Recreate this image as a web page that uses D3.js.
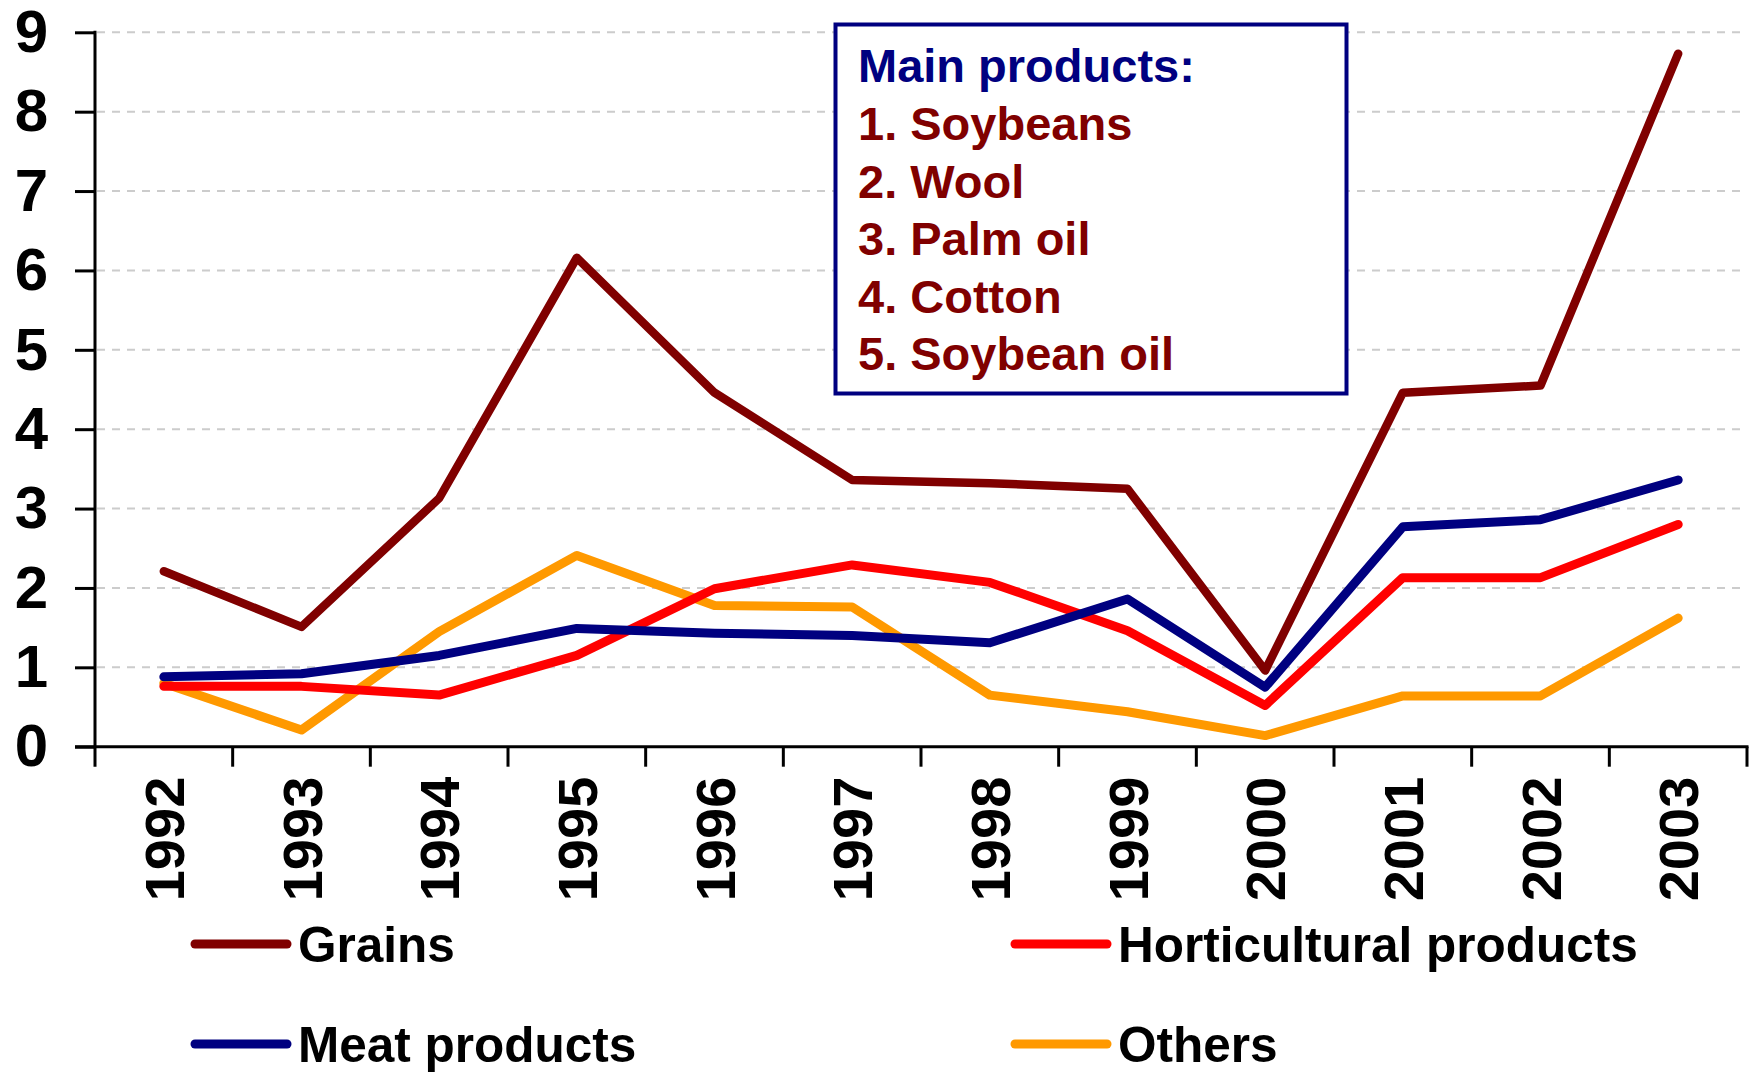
<!DOCTYPE html>
<html lang="en">

<head>
    <meta charset="UTF-8">
    <title>Main products line chart</title>
    <script src="https://d3js.org/d3.v7.min.js"></script>
    <style>
        body {
            margin: 0;
            background: #fff;
            font-family: "Liberation Sans", Arial, sans-serif;
            font-weight: bold;
        }

        .grid line {
            stroke: #cccccc;
            stroke-width: 2;
            stroke-dasharray: 8 7;
        }

        .line {
            fill: none;
            stroke-linejoin: round;
            stroke-linecap: round;
        }
    </style>
</head>

<body>
    <div id="chart"></div>

    <script>
        // 画布尺寸
        const W = 1758, H = 1072;
        const plot = { left: 95, right: 1747, top: 32.3, bottom: 746.7 };

        // 数据
        const years = ["1992", "1993", "1994", "1995", "1996", "1997", "1998", "1999", "2000", "2001", "2002", "2003"];
        const grains = [2.21, 1.51, 3.13, 6.16, 4.46, 3.36, 3.32, 3.25, 0.96, 4.46, 4.55, 8.73];
        const horticultural = [0.76, 0.76, 0.65, 1.15, 1.99, 2.29, 2.07, 1.46, 0.52, 2.13, 2.13, 2.80];
        const meat = [0.88, 0.92, 1.15, 1.49, 1.43, 1.40, 1.31, 1.86, 0.75, 2.77, 2.86, 3.36];
        const others = [0.80, 0.21, 1.45, 2.41, 1.78, 1.76, 0.65, 0.44, 0.14, 0.64, 0.64, 1.62];
        const yTicks = [0, 1, 2, 3, 4, 5, 6, 7, 8, 9];
        const boxTitle = "Main products:";
        const boxItems = ["1. Soybeans", "2. Wool", "3. Palm oil", "4. Cotton", "5. Soybean oil"];

        const series = [
            { name: "Grains", values: grains, color: "#800000", width: 8.5 },
            { name: "Horticultural products", values: horticultural, color: "#ff0000", width: 9 },
            { name: "Meat products", values: meat, color: "#000080", width: 9 },
            { name: "Others", values: others, color: "#ff9900", width: 9 }
        ];

        const svg = d3.select("#chart")
            .append("svg")
            .attr("width", W)
            .attr("height", H);

        // 比例尺
        const x = d3.scaleBand()
            .domain(years)
            .range([plot.left, plot.right]);

        const y = d3.scaleLinear()
            .domain([0, 9])
            .range([plot.bottom, plot.top]);

        const cx = d => x(d) + x.bandwidth() / 2;

        // 网格线
        svg.append("g")
            .attr("class", "grid")
            .selectAll("line")
            .data(yTicks.filter(d => d > 0))
            .join("line")
            .attr("x1", plot.left + 2)
            .attr("x2", plot.right)
            .attr("y1", d => y(d))
            .attr("y2", d => y(d));

        // 折线
        const line = d3.line()
            .x((d, i) => cx(years[i]))
            .y(d => y(d));

        svg.append("g")
            .selectAll("path")
            .data([series[3], series[1], series[2], series[0]])
            .join("path")
            .attr("class", "line")
            .attr("stroke", d => d.color)
            .attr("stroke-width", d => d.width)
            .attr("d", d => line(d.values));

        // Y 轴
        const yAxis = svg.append("g")
            .attr("transform", `translate(${plot.left},0)`)
            .call(d3.axisLeft(y).tickValues(yTicks).tickSize(20).tickPadding(27));
        yAxis.select(".domain").remove();
        yAxis.selectAll(".tick line").attr("stroke", "#000").attr("stroke-width", 3);
        yAxis.selectAll(".tick text")
            .attr("fill", "#000")
            .style("font-family", "'Liberation Sans', Arial, sans-serif")
            .style("font-weight", "bold")
            .style("font-size", "60px");
        yAxis.append("line")
            .attr("x1", 0).attr("x2", 0)
            .attr("y1", plot.top - 1.5)
            .attr("y2", plot.bottom + 20)
            .attr("stroke", "#000")
            .attr("stroke-width", 3);

        // X 轴
        const xAxis = svg.append("g")
            .attr("transform", `translate(0,${plot.bottom})`)
            .call(d3.axisBottom(x).tickSize(0));
        xAxis.select(".domain").remove();
        xAxis.selectAll(".tick text")
            .attr("fill", "#000")
            .attr("transform", "rotate(-90)")
            .attr("text-anchor", "end")
            .attr("x", -30)
            .attr("y", 0)
            .attr("dy", "0.36em")
            .style("font-family", "'Liberation Sans', Arial, sans-serif")
            .style("font-weight", "bold")
            .style("font-size", "56px");

        xAxis.append("line")
            .attr("x1", plot.left - 20)
            .attr("x2", plot.right + 1.5)
            .attr("stroke", "#000")
            .attr("stroke-width", 3);

        // 类别边界刻度
        xAxis.selectAll(".bound")
            .data(years.slice(1).concat(["end"]))
            .join("line")
            .attr("class", "bound")
            .attr("x1", d => d === "end" ? plot.right : x(d))
            .attr("x2", d => d === "end" ? plot.right : x(d))
            .attr("y1", 0)
            .attr("y2", 20)
            .attr("stroke", "#000")
            .attr("stroke-width", 3);

        // 主要产品框
        const box = svg.append("g");
        box.append("rect")
            .attr("x", 835.5)
            .attr("y", 24.5)
            .attr("width", 511)
            .attr("height", 369)
            .attr("fill", "#fff")
            .attr("stroke", "#000080")
            .attr("stroke-width", 4);

        box.append("text")
            .attr("x", 858)
            .attr("y", 81.7)
            .attr("fill", "#000080")
            .style("font-size", "47px")
            .text(boxTitle);

        box.selectAll(".item")
            .data(boxItems)
            .join("text")
            .attr("class", "item")
            .attr("x", 858)
            .attr("y", (d, i) => 140 + i * 57.5)
            .attr("fill", "#800000")
            .style("font-size", "47px")
            .text(d => d);

        // 图例
        const legendPos = [
            { x: 195, y: 944 },
            { x: 1015, y: 944 },
            { x: 195, y: 1044 },
            { x: 1015, y: 1044 }
        ];

        const legend = svg.append("g")
            .selectAll("g")
            .data(series)
            .join("g")
            .attr("transform", (d, i) => `translate(${legendPos[i].x},${legendPos[i].y})`);

        legend.append("line")
            .attr("x1", 0)
            .attr("x2", 92)
            .attr("stroke", d => d.color)
            .attr("stroke-width", 9)
            .attr("stroke-linecap", "round");

        legend.append("text")
            .attr("x", 103)
            .attr("y", 17.5)
            .attr("fill", "#000")
            .style("font-size", "49.5px")
            .text(d => d.name);
    </script>
</body>

</html>
